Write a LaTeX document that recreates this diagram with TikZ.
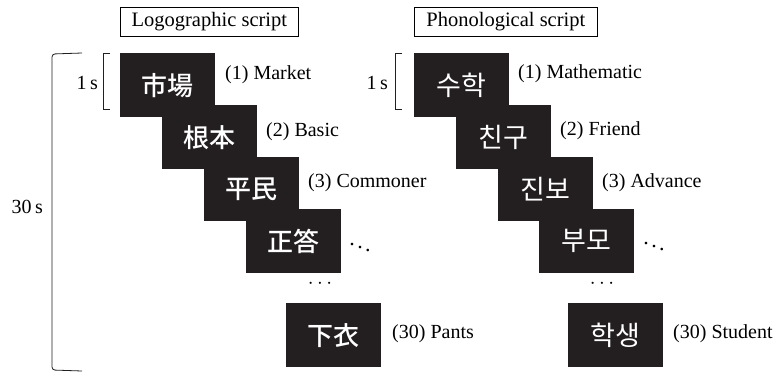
\documentclass[tikz,border=0pt]{standalone}
\usepackage{fontspec}
\setmainfont{Liberation Serif}
\newfontfamily\krfont{Noto Sans CJK KR}
\newfontfamily\jpfont{Noto Sans CJK JP Medium}
\definecolor{cardblack}{HTML}{231F20}
\tikzset{
  card/.style={fill=cardblack, minimum width=95pt, minimum height=64pt, inner sep=0pt, text=white, anchor=north west},
  hanzi/.style={card, font=\jpfont\fontsize{26}{28}\selectfont},
  hangul/.style={card, font=\krfont\fontsize{27}{29}\selectfont},
  lbl/.style={font=\fontsize{20}{24}\selectfont, anchor=west, inner sep=0pt},
  tlbl/.style={font=\fontsize{20}{24}\selectfont, anchor=east, inner sep=0pt},
  hdr/.style={draw, line width=0.7pt, anchor=north west, minimum height=29pt, inner sep=0pt, font=\fontsize{20.5}{24}\selectfont},
  brk/.style={line width=0.8pt, cardblack},
  dotsl/.style={inner sep=0pt, font=\fontsize{22}{24}\selectfont}
}
\begin{document}
\begin{tikzpicture}[x=1pt,y=-1pt]
\useasboundingbox (0,0) rectangle (779,372);
% headers
\node[hdr, minimum width=178pt] (hl) at (120,7) {Logographic script};
\node[hdr, minimum width=183pt] (hr) at (414,7) {Phonological script};
% left column
\node[hanzi] (l1) at (120,53) {市場};
\node[hanzi] (l2) at (162,105) {根本};
\node[hanzi] (l3) at (204,157) {平民};
\node[hanzi] (l4) at (246,209) {正答};
\node[hanzi] (l30) at (286,303) {下衣};
\node[lbl] (tl1) at (225,75) {(1) Market};
\node[lbl] (tl2) at (266,132) {(2) Basic};
\node[lbl] (tl3) at (308,183) {(3) Commoner};
\node[lbl] (tl30) at (392,334) {(30) Pants};
\node[dotsl] (ddl) at (360,244) {$\ddots$};
\node[dotsl] (cdl) at (320,284) {$\cdots$};
% right column
\node[hangul] (r1) at (414,53) {수학};
\node[hangul] (r2) at (456,105) {친구};
\node[hangul] (r3) at (498,157) {진보};
\node[hangul] (r4) at (539,209) {부모};
\node[hangul] (r30) at (568,303) {학생};
\node[lbl] (tr1) at (518,74) {(1) Mathematic};
\node[lbl] (tr2) at (560,131) {(2) Friend};
\node[lbl] (tr3) at (602,183) {(3) Advance};
\node[lbl] (tr30) at (673,334) {(30) Student};
\node[dotsl] (ddr) at (654,243) {$\ddots$};
\node[dotsl] (cdr) at (602,284) {$\cdots$};
% brackets
\draw[brk] (110,53) -- (103,53) -- (103,109) -- (110,109);
\node[tlbl] (onesl) at (98,83) {1\,s};
\draw[brk] (402,53) -- (395,53) -- (395,109) -- (402,109);
\node[tlbl] (onesr) at (388,83) {1\,s};
\draw[brk, rounded corners=3pt] (82,53) -- (52,54) -- (52,370) -- (82,371);
\node[tlbl] (thirty) at (43,207) {30\,s};
\end{tikzpicture}
\end{document}
